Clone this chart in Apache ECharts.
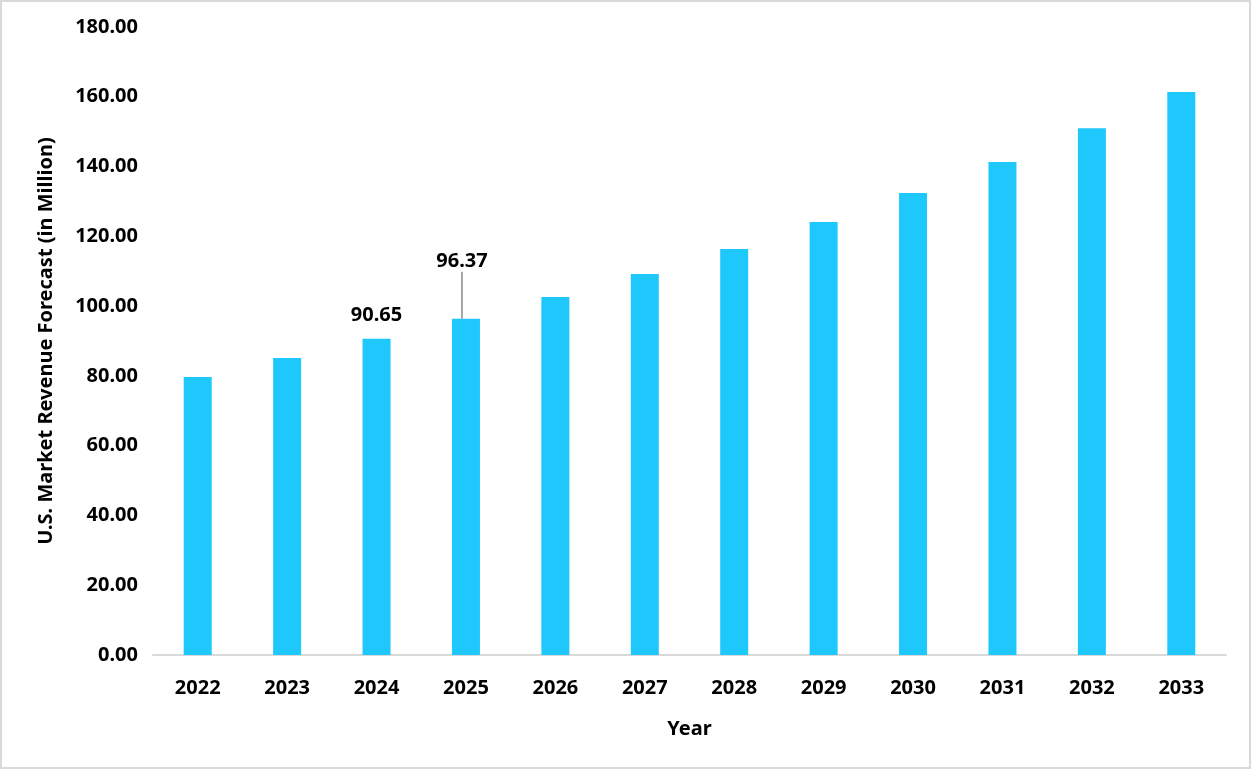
<!DOCTYPE html>
<html>
<head>
<meta charset="utf-8">
<script src="https://cdn.jsdelivr.net/npm/echarts@6/dist/echarts.min.js"></script>
<style>
  html, body { margin: 0; padding: 0; background: #fff; }
  #chart {
    width: 1247px;
    height: 765px;
    border: 2px solid #d9d9d9;
  }
</style>
</head>
<body>
<div id="chart"></div>
<script>
// 年份与数值
const years = ['2022', '2023', '2024', '2025', '2026', '2027', '2028', '2029', '2030', '2031', '2032', '2033'];
const revenue = [79.7, 85.1, 90.65, 96.37, 102.6, 109.2, 116.4, 124.1, 132.4, 141.3, 151.0, 161.4];
// 只给这两个柱子标数值
const labelledIdx = [2, 3];

const barColor = '#1ec8fc';
const textColor = '#000000';
const font = '"Noto Sans", "Open Sans", sans-serif';
const fs = 20;

const chart = echarts.init(document.getElementById('chart'));

const data = revenue.map((v, i) => {
  const item = { value: v };
  if (labelledIdx.includes(i)) {
    item.label = {
      show: true,
      position: 'top',
      distance: 13,
      formatter: (p) => p.value.toFixed(2),
      color: textColor,
      fontFamily: font,
      fontWeight: 'bold',
      fontSize: fs,
    };
  }
  if (i === 3) {
    item.labelLine = { show: true, lineStyle: { color: '#a6a6a6', width: 2 } };
  }
  return item;
});

const option = {
  animation: false,
  grid: { left: 151, right: 23, top: 25, bottom: 112 },
  xAxis: {
    type: 'category',
    data: years,
    name: 'Year',
    nameLocation: 'middle',
    nameGap: 64,
    nameTextStyle: { color: textColor, fontFamily: font, fontWeight: 'bold', fontSize: fs },
    axisLine: { lineStyle: { color: '#d9d9d9', width: 2 } },
    axisTick: { show: false },
    axisLabel: { color: textColor, fontFamily: font, fontWeight: 'bold', fontSize: fs, margin: 23 },
  },
  yAxis: {
    type: 'value',
    min: 0,
    max: 180,
    interval: 20,
    name: 'U.S. Market Revenue Forecast (in Million)',
    nameLocation: 'middle',
    nameGap: 97,
    nameTextStyle: { color: textColor, fontFamily: font, fontWeight: 'bold', fontSize: fs },
    axisLine: { show: false },
    axisTick: { show: false },
    splitLine: { show: false },
    axisLabel: {
      color: textColor, fontFamily: font, fontWeight: 'bold', fontSize: fs, margin: 15,
      formatter: (v) => v.toFixed(2),
    },
  },
  series: [
    {
      type: 'bar',
      data: data,
      barWidth: 28,
      itemStyle: { color: barColor },
      labelLayout: (params) => {
        if (params.dataIndex === 3) return { dx: -4, dy: -34 };
        return {};
      },
    },
  ],
};
chart.setOption(option);
</script>
</body>
</html>
